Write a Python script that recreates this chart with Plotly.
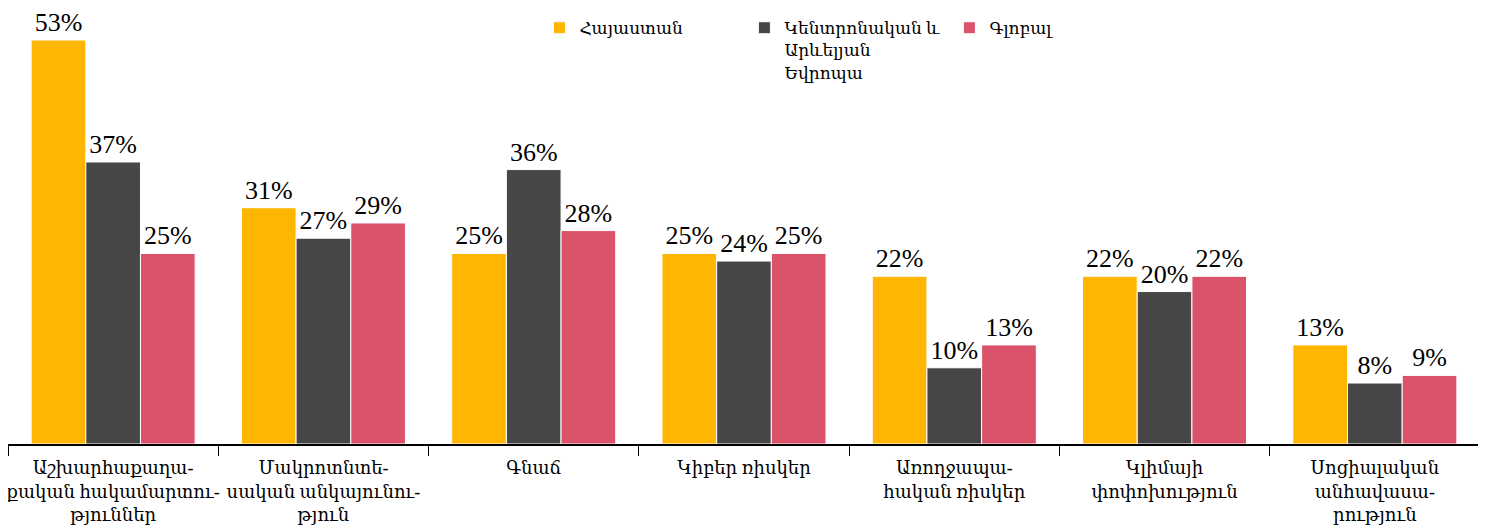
import plotly.graph_objects as go

categories = [
    "Աշխարհաքաղա-<br>քական հակամարտու-<br>թյուններ",
    "Մակրոտնտե-<br>սական անկայունու-<br>թյուն",
    "Գնաճ",
    "Կիբեր ռիսկեր",
    "Առողջապա-<br>հական ռիսկեր",
    "Կլիմայի<br>փոփոխություն",
    "Սոցիալական<br>անհավասա-<br>րություն",
]
series_names = ["Հայաստան", "Կենտրոնական և<br>Արևելյան<br>Եվրոպա", "Գլոբալ"]
armenia = [53, 31, 25, 25, 22, 22, 13]
cee = [37, 27, 36, 24, 10, 20, 8]
global_vals = [25, 29, 28, 25, 13, 22, 9]
colors = ["#FFB600", "#464646", "#DB536A"]

FONT = "Liberation Serif, DejaVu Serif, serif"


def main():
    fig = go.Figure()
    for name, vals, col in zip(series_names, [armenia, cee, global_vals], colors):
        fig.add_trace(
            go.Bar(
                x=categories,
                y=vals,
                name=name,
                marker=dict(color=col, line=dict(color="white", width=1)),
                text=[f"{v}%" for v in vals],
                textposition="outside",
                textfont=dict(size=26, color="black", family=FONT),
                cliponaxis=False,
            )
        )
    # the page body adds an 8px offset, margins compensate for it
    fig.update_layout(
        width=1486,
        height=532,
        margin=dict(l=0, r=14, t=0, b=96, autoexpand=False),
        plot_bgcolor="white",
        paper_bgcolor="white",
        barmode="group",
        bargap=0.22,
        bargroupgap=0,
        font=dict(family=FONT, size=17, color="black"),
        legend=dict(
            orientation="h",
            x=0.361,
            y=0.995,
            xanchor="left",
            yanchor="top",
            valign="top",
            entrywidth=160,
            entrywidthmode="pixels",
            font=dict(size=17, family=FONT),
        ),
        showlegend=True,
    )
    fig.update_xaxes(
        showline=True,
        linecolor="black",
        linewidth=1.5,
        ticks="outside",
        tickson="boundaries",
        ticklen=10,
        tickcolor="black",
        tickangle=0,
        ticklabelstandoff=7,
        automargin=False,
        tickfont=dict(size=18, family=FONT),
        showgrid=False,
    )
    fig.update_yaxes(visible=False, range=[0, 57.2], showgrid=False, automargin=False)
    fig.write_html("out.html")


if __name__ == "__main__":
    main()
